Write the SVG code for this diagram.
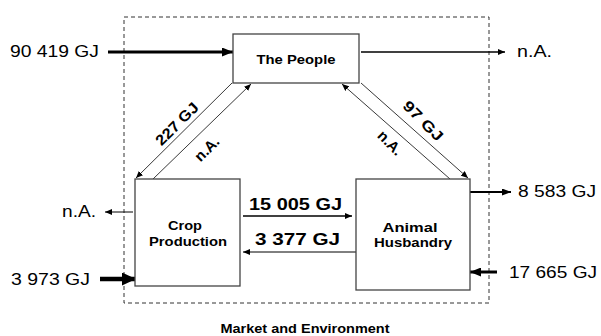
<svg xmlns="http://www.w3.org/2000/svg" width="601" height="336" viewBox="0 0 601 336">
<style>
.box{fill:#fff;stroke:#444;stroke-width:1.3}
.t{font-family:"Liberation Sans",Arial,sans-serif;fill:#000}
.b{font-weight:bold}
.ln{stroke:#000;fill:none}
.dg{stroke:#222;stroke-width:0.9;fill:none}
</style>
<defs>
<marker id="hs" markerUnits="userSpaceOnUse" markerWidth="7" markerHeight="6" refX="7" refY="3" orient="auto"><path d="M0,0L7,3L0,6z" fill="#000"/></marker>
<marker id="hm" markerUnits="userSpaceOnUse" markerWidth="9" markerHeight="7" refX="9" refY="3.5" orient="auto"><path d="M0,0L9,3.5L0,7z" fill="#000"/></marker>
<marker id="hl" markerUnits="userSpaceOnUse" markerWidth="11" markerHeight="9" refX="11" refY="4.5" orient="auto"><path d="M0,0L11,4.5L0,9z" fill="#000"/></marker>
<marker id="hx" markerUnits="userSpaceOnUse" markerWidth="14" markerHeight="13" refX="14" refY="6.5" orient="auto"><path d="M0,0L14,6.5L0,13z" fill="#000"/></marker>
</defs>
<rect x="0" y="0" width="601" height="336" fill="#fff"/>
<rect id="boundary" x="124" y="17" width="365" height="286" fill="none" stroke="#333" stroke-width="1" stroke-dasharray="4,3"/>
<g id="connectors">
<line class="ln" x1="108" y1="52" x2="233" y2="52" stroke-width="3.2" marker-end="url(#hl)"/>
<line class="ln" x1="361" y1="52" x2="505" y2="52" stroke-width="1.6" marker-end="url(#hs)"/>
<line class="dg" x1="232" y1="83" x2="136" y2="178" marker-end="url(#hs)"/>
<line class="dg" x1="153" y1="179" x2="251" y2="84" marker-end="url(#hs)"/>
<line class="dg" x1="361" y1="83" x2="468" y2="178" marker-end="url(#hs)"/>
<line class="dg" x1="450" y1="179" x2="342" y2="84" marker-end="url(#hs)"/>
<line class="ln" x1="243" y1="216" x2="352" y2="216" stroke-width="1.4" marker-end="url(#hs)"/>
<line class="ln" x1="356" y1="252" x2="243" y2="252" stroke-width="1" marker-end="url(#hs)"/>
<line class="ln" x1="133" y1="212" x2="105" y2="212" stroke-width="1" marker-end="url(#hs)"/>
<line class="ln" x1="100" y1="279" x2="136" y2="279" stroke-width="4.5" marker-end="url(#hx)"/>
<line class="ln" x1="469" y1="192" x2="511" y2="192" stroke-width="2" marker-end="url(#hm)"/>
<line class="ln" x1="497" y1="272" x2="470" y2="272" stroke-width="3" marker-end="url(#hl)"/>
</g>
<g id="people">
<rect class="box" x="233" y="34" width="126" height="49"/>
<text class="t b" x="296" y="64" font-size="13.5" text-anchor="middle" textLength="79" lengthAdjust="spacingAndGlyphs">The People</text>
</g>
<g id="crop">
<rect class="box" x="135" y="179" width="105" height="107"/>
<text class="t b" x="185" y="230" font-size="13" text-anchor="middle" textLength="34" lengthAdjust="spacingAndGlyphs">Crop</text>
<text class="t b" x="188" y="246" font-size="13" text-anchor="middle" textLength="78" lengthAdjust="spacingAndGlyphs">Production</text>
</g>
<g id="animal">
<rect class="box" x="356" y="179" width="114" height="111"/>
<text class="t b" x="410" y="232" font-size="13" text-anchor="middle" textLength="55" lengthAdjust="spacingAndGlyphs">Animal</text>
<text class="t b" x="413" y="247" font-size="13" text-anchor="middle" textLength="78" lengthAdjust="spacingAndGlyphs">Husbandry</text>
</g>
<g id="labels">
<text class="t" x="10" y="57" font-size="16" textLength="89" lengthAdjust="spacingAndGlyphs">90 419 GJ</text>
<text class="t" x="517" y="57" font-size="16" textLength="35" lengthAdjust="spacingAndGlyphs">n.A.</text>
<text class="t" x="62" y="217" font-size="16" textLength="34" lengthAdjust="spacingAndGlyphs">n.A.</text>
<text class="t" x="11" y="285" font-size="16" textLength="79" lengthAdjust="spacingAndGlyphs">3 973 GJ</text>
<text class="t" x="518" y="197" font-size="16" textLength="78" lengthAdjust="spacingAndGlyphs">8 583 GJ</text>
<text class="t" x="509" y="278" font-size="16" textLength="88" lengthAdjust="spacingAndGlyphs">17 665 GJ</text>
<text class="t b" x="249" y="210" font-size="16" textLength="93" lengthAdjust="spacingAndGlyphs">15 005 GJ</text>
<text class="t b" x="255" y="245" font-size="16" textLength="85" lengthAdjust="spacingAndGlyphs">3 377 GJ</text>
<text class="t b" transform="translate(177,124) rotate(-45)" x="0" y="5" font-size="15" text-anchor="middle" textLength="54" lengthAdjust="spacingAndGlyphs">227 GJ</text>
<text class="t b" transform="translate(207,149) rotate(-45)" x="0" y="5" font-size="15" text-anchor="middle">n.A.</text>
<text class="t b" transform="translate(423,121) rotate(45)" x="0" y="5" font-size="15" text-anchor="middle" textLength="50" lengthAdjust="spacingAndGlyphs">97 GJ</text>
<text class="t b" transform="translate(390,143) rotate(45)" x="0" y="5" font-size="15" text-anchor="middle">n.A.</text>
<text class="t b" x="305" y="333" font-size="12" text-anchor="middle" textLength="169" lengthAdjust="spacingAndGlyphs">Market and Environment</text>
</g>
</svg>
